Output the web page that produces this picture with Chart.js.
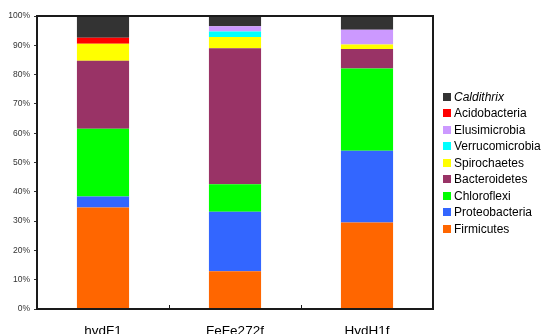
<!DOCTYPE html>
<html>
<head>
<meta charset="utf-8">
<script src="https://cdn.jsdelivr.net/npm/chart.js@4/dist/chart.umd.min.js"></script>
<style>
  html, body { margin: 0; padding: 0; background: #fff; }
  #wrap { position: relative; width: 544px; height: 334px; overflow: hidden; }
  #legend { position: absolute; left: 443px; top: 88.5px; font: 12px "Liberation Sans", Arial, sans-serif; color: #000; }
  #legend div { height: 16.5px; line-height: 16.5px; white-space: nowrap; }
  #legend span.box { display: inline-block; width: 8px; height: 8px; margin-right: 3px; vertical-align: 0px; }
</style>
</head>
<body>
<div id="wrap">
  <canvas id="chart" width="544" height="334"></canvas>
  <div id="legend"></div>
</div>
<script>
const samples = ['hvdF1', 'FeFe272f', 'HydH1f'];

// stacked bottom to top
const taxa = ['Firmicutes', 'Proteobacteria', 'Chloroflexi', 'Bacteroidetes', 'Spirochaetes',
  'Verrucomicrobia', 'Elusimicrobia', 'Acidobacteria', 'Caldithrix'];
const colors = ['#ff6600', '#3366ff', '#00ff00', '#993366', '#ffff00',
  '#00ffff', '#cc99ff', '#ff0000', '#333333'];

const firmicutes = [34.6, 12.9, 29.5];
const proteobacteria = [3.8, 20.3, 24.5];
const chloroflexi = [23.1, 9.4, 28.1];
const bacteroidetes = [23.2, 46.4, 6.6];
const spirochaetes = [5.8, 3.8, 1.6];
const verrucomicrobia = [0, 1.9, 0];
const elusimicrobia = [0, 1.8, 5.0];
const acidobacteria = [2.1, 0, 0];
const caldithrix = [7.4, 3.5, 4.7];

const yTicks = ['0%', '10%', '20%', '30%', '40%', '50%', '60%', '70%', '80%', '90%', '100%'];

const series = [firmicutes, proteobacteria, chloroflexi, bacteroidetes, spirochaetes,
  verrucomicrobia, elusimicrobia, acidobacteria, caldithrix];

const datasets = taxa.map((name, i) => ({
  label: name,
  data: series[i],
  backgroundColor: colors[i],
  borderWidth: 0,
  barPercentage: 0.395,
  categoryPercentage: 1
}));

// box around the plot area plus small inward ticks between categories
const frame = {
  id: 'frame',
  afterDraw(chart) {
    const { ctx, chartArea } = chart;
    const x = chart.scales.x;
    ctx.save();
    ctx.strokeStyle = '#1a1a1a';
    ctx.lineWidth = 2;
    ctx.strokeRect(chartArea.left, chartArea.top, chartArea.right - chartArea.left, chartArea.bottom - chartArea.top);
    ctx.lineWidth = 1;
    for (let i = 1; i < samples.length; i++) {
      const px = Math.round((x.getPixelForValue(i - 1) + x.getPixelForValue(i)) / 2) + 0.5;
      ctx.beginPath();
      ctx.moveTo(px, chartArea.bottom);
      ctx.lineTo(px, chartArea.bottom - 4);
      ctx.stroke();
    }
    ctx.restore();
  }
};

new Chart(document.getElementById('chart'), {
  type: 'bar',
  data: { labels: samples, datasets: datasets },
  plugins: [frame],
  options: {
    responsive: false,
    animation: false,
    layout: { padding: { top: 16, right: 111, left: 0, bottom: 0 } },
    plugins: { legend: { display: false }, tooltip: { enabled: false } },
    scales: {
      x: {
        stacked: true,
        afterFit(scale) { scale.height = 25; },
        grid: { display: false },
        border: { display: false },
        ticks: { color: '#000', padding: 6, font: { family: '"Liberation Sans", Arial', size: 13.5 } }
      },
      y: {
        stacked: true,
        min: 0,
        max: 100,
        afterFit(scale) { scale.width = 37; },
        grid: { drawOnChartArea: false, tickLength: 3, color: '#333' },
        border: { display: false },
        ticks: {
          stepSize: 10,
          padding: 4,
          color: '#333',
          font: { family: '"Liberation Sans", Arial', size: 8.5 },
          callback: (v, i) => yTicks[i]
        }
      }
    }
  }
});

// legend, top entry is the top of the stack
const legend = document.getElementById('legend');
for (let i = taxa.length - 1; i >= 0; i--) {
  const row = document.createElement('div');
  const box = document.createElement('span');
  box.className = 'box';
  box.style.background = colors[i];
  row.appendChild(box);
  const txt = document.createElement('span');
  txt.textContent = taxa[i];
  if (taxa[i] === 'Caldithrix') txt.style.fontStyle = 'italic';
  row.appendChild(txt);
  legend.appendChild(row);
}
</script>
</body>
</html>
